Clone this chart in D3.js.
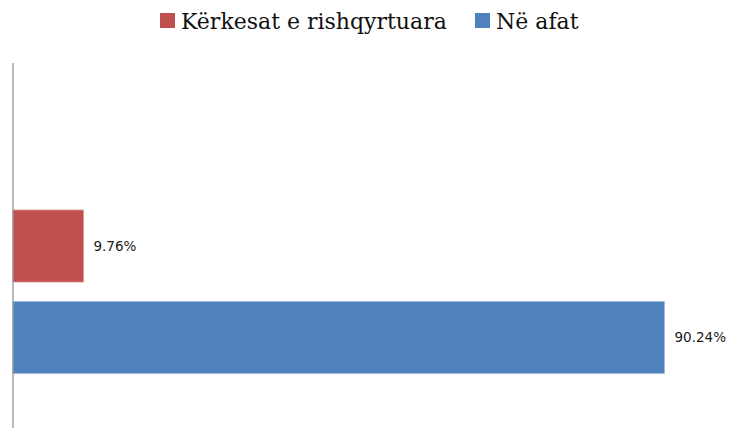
<!DOCTYPE html>
<html>
<head>
<meta charset="utf-8">
<script src="https://cdn.jsdelivr.net/npm/d3@7"></script>
<style>
  body { margin: 0; background: #fff; }
</style>
</head>
<body>
<div id="chart-area"></div>
<script>
// data
var categories = ["Kërkesat e rishqyrtuara", "Në afat"];
var values = [9.76, 90.24];
var colors = ["#c0504d", "#4f81bd"];

var width = 732, height = 428;

var svg = d3.select("#chart-area").append("svg")
    .attr("width", width)
    .attr("height", height);

var x = d3.scaleLinear()
    .domain([0, 100])
    .range([13, 735]);

var y = d3.scaleBand()
    .domain(categories)
    .range([210, 373.5])
    .paddingInner(0.213)
    .paddingOuter(0);

// bars
svg.selectAll("rect.bar")
    .data(values)
    .enter()
    .append("rect")
    .attr("class", "bar")
    .attr("x", x(0))
    .attr("y", (d, i) => y(categories[i]))
    .attr("width", d => x(d) - x(0))
    .attr("height", y.bandwidth())
    .attr("fill", (d, i) => colors[i])
    .attr("stroke", (d, i) => i == 0 ? "#d9908e" : "#9fbbe0")
    .attr("stroke-width", 0.8);

// value labels
svg.selectAll("text.val")
    .data(values)
    .enter()
    .append("text")
    .attr("class", "val")
    .attr("x", d => x(d) + 10)
    .attr("y", (d, i) => y(categories[i]) + y.bandwidth() / 2 + 5)
    .attr("font-family", "'DejaVu Sans', sans-serif")
    .attr("font-size", "13.5px")
    .attr("fill", "#1a1a1a")
    .text(d => d.toFixed(2) + "%");

// vertical axis line
svg.append("line")
    .attr("x1", x(0)).attr("x2", x(0))
    .attr("y1", 63).attr("y2", height)
    .attr("stroke", "#8c8c8c")
    .attr("stroke-width", 1.2);

// legend
var legendX = [160, 475];
var legend = svg.selectAll("g.legend")
    .data(categories)
    .enter()
    .append("g")
    .attr("class", "legend")
    .attr("transform", (d, i) => `translate(${legendX[i]},0)`);

legend.append("rect")
    .attr("x", 0).attr("y", 13)
    .attr("width", 15).attr("height", 15)
    .attr("fill", (d, i) => colors[i]);

legend.append("text")
    .attr("x", 21)
    .attr("y", 29)
    .attr("font-family", "'DejaVu Serif', serif")
    .attr("font-size", "22px")
    .attr("fill", "#111")
    .text(d => d);
</script>
</body>
</html>
